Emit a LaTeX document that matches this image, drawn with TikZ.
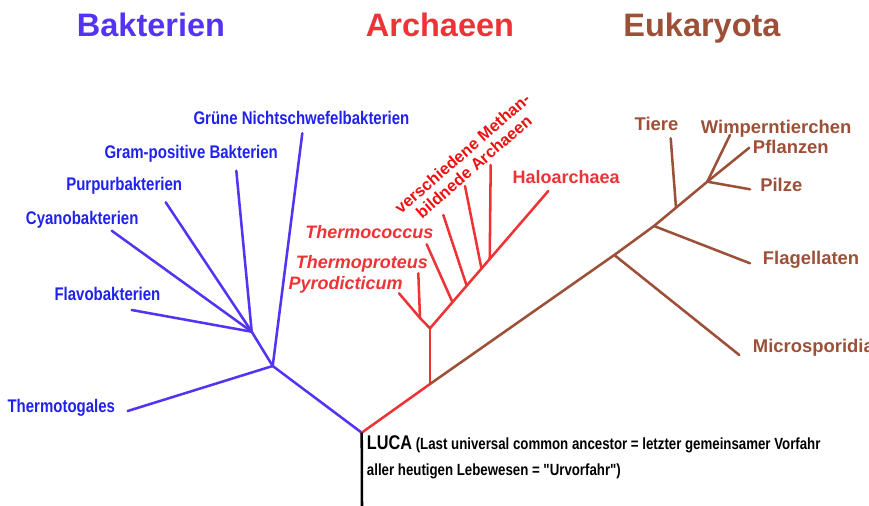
\documentclass[tikz,border=0pt]{standalone}
\usepackage{fontspec}
\setmainfont{Liberation Sans}
\newfontfamily\narrowfont[FakeStretch=0.82]{Liberation Sans}
\usetikzlibrary{calc}
\usepackage{xcolor}
\definecolor{BactViolet}{HTML}{5533F5}
\definecolor{BactBlue}{HTML}{1F22EE}
\definecolor{ArchRed}{HTML}{EE3336}
\definecolor{ArchBright}{HTML}{EE1111}
\definecolor{EukBrown}{HTML}{9C5038}
\tikzset{
    % Line styles
    bactline/.style={draw=BactViolet, line width=1.8pt, line cap=round, line join=round},
    archline/.style={draw=ArchRed, line width=1.8pt, line cap=round, line join=round},
    eukline/.style={draw=EukBrown, line width=1.8pt, line cap=round, line join=round},
    rootline/.style={draw=black, line width=1.8pt},
    % Text styles
    title/.style={inner sep=0pt, anchor=base, font=\fontsize{23.1}{26}\selectfont\bfseries},
    bactlabel/.style={inner sep=0pt, anchor=base west, text=BactBlue,
        font=\narrowfont\fontsize{13}{15}\selectfont\bfseries},
    archlabel/.style={inner sep=0pt, anchor=base west, text=ArchRed,
        font=\fontsize{12.8}{15}\selectfont\bfseries\itshape},
    euklabel/.style={inner sep=0pt, anchor=base west, text=EukBrown,
        font=\fontsize{13.1}{15}\selectfont\bfseries},
    lucalabel/.style={inner sep=0pt, anchor=base west, text=black,
        font=\narrowfont\fontsize{11.5}{14}\selectfont\bfseries}
}
\begin{document}
\begin{tikzpicture}[x=0.025cm, y=-0.025cm]
    \useasboundingbox (0,0) rectangle (869,506);

    % Titles
    \node[title, text=BactViolet] (tbact) at (151,36) {Bakterien};
    \node[title, text=ArchRed] (tarch) at (440,36) {Archaeen};
    \node[title, text=EukBrown] (teuk) at (702,36) {Eukaryota};

    % Junctions
    \coordinate (luca) at (361.7,432.7);
    \coordinate (root) at (362,506);
    \coordinate (bact) at (272.7,366);
    \coordinate (bsub) at (251.7,331.7);
    \coordinate (arch) at (430,384);
    \coordinate (asub) at (430,328.3);
    \coordinate (pyrosub) at (420,318);
    \coordinate (euka) at (614.3,255);
    \coordinate (eukb) at (654,226);
    \coordinate (eukc) at (676,207.7);
    \coordinate (eukd) at (707.3,181.7);

    % Bakterien
    \node[bactlabel] (thermotogales) at (7.3,412.7) {Thermotogales};
    \node[bactlabel] (flavo) at (54.3,300.7) {Flavobakterien};
    \node[bactlabel] (cyano) at (25.7,224) {Cyanobakterien};
    \node[bactlabel] (purpur) at (66,190) {Purpurbakterien};
    \node[bactlabel] (gram) at (104.3,158.3) {Gram-positive Bakterien};
    \node[bactlabel] (gruene) at (193.3,124.3) {Grüne Nichtschwefelbakterien};

    \coordinate (thermotogalesend) at (127.7,411);
    \coordinate (flavoend) at (131.7,310);
    \coordinate (cyanoend) at (111.7,230.7);
    \coordinate (purpurend) at (165.7,202.3);
    \coordinate (gramend) at (236.3,170.7);
    \coordinate (grueneend) at (302.3,133.3);

    \draw[bactline] (luca) -- (bact);
    \draw[bactline] (bact) -- (thermotogalesend);
    \draw[bactline] (bact) -- (grueneend);
    \draw[bactline] (bact) -- (bsub);
    \foreach \leaf in {flavoend, cyanoend, purpurend, gramend}
        \draw[bactline] (bsub) -- (\leaf);

    % Archaeen
    \node[archlabel] (pyro) at (288.3,289) {Pyrodicticum};
    \node[archlabel] (thermoproteus) at (295.7,268.3) {Thermoproteus};
    \node[archlabel] (thermococcus) at (305,238.3) {Thermococcus};
    \node[archlabel, font=\fontsize{12.8}{15}\selectfont\bfseries] (halo) at (512.3,183.3) {Haloarchaea};
    \node[inner sep=0pt, text=ArchBright, rotate=41, align=center,
        font=\fontsize{11.7}{12.4}\selectfont\bfseries] (methan) at (468,160)
        {verschiedene Methan-\\bildnede Archaeen};

    \coordinate (pyroend) at (399,293.3);
    \coordinate (thermoproteusend) at (418.3,273.3);
    \coordinate (haloend) at (548.3,191);
    \coordinate (thermococcusend) at (426.7,244.3);
    \coordinate (methanaend) at (443.3,215);
    \coordinate (methanbend) at (465,186);
    \coordinate (methancend) at (490.7,165);

    \draw[archline] (luca) -- (arch);
    \draw[archline] (arch) -- (asub);
    \draw[archline] (asub) -- (pyrosub);
    \draw[archline] (pyrosub) -- (pyroend);
    \draw[archline] (pyrosub) -- (thermoproteusend);
    \draw[archline] (asub) -- (haloend);
    \draw[archline] ($(asub)!0.19!(haloend)$) -- (thermococcusend);
    \draw[archline] ($(asub)!0.31!(haloend)$) -- (methanaend);
    \draw[archline] ($(asub)!0.435!(haloend)$) -- (methanbend);
    \draw[archline] ($(asub)!0.505!(haloend)$) -- (methancend);

    % Eukaryota
    \node[euklabel] (tiere) at (634.3,130) {Tiere};
    \node[euklabel] (wimper) at (700.7,133.3) {Wimperntierchen};
    \node[euklabel] (pflanzen) at (752.7,153.3) {Pflanzen};
    \node[euklabel] (pilze) at (760,191.7) {Pilze};
    \node[euklabel] (flag) at (762.7,264) {Flagellaten};
    \node[euklabel] (micro) at (752.7,352.3) {Microsporidia};

    \coordinate (microend) at (739.3,355);
    \coordinate (flagend) at (750,263.3);
    \coordinate (tiereend) at (670.7,138.3);
    \coordinate (wimperend) at (730,135);
    \coordinate (pflanzenend) at (749.3,147.7);
    \coordinate (pilzeend) at (750,189.3);

    \draw[eukline] (arch) -- (euka) -- (eukb) -- (eukc) -- (eukd);
    \draw[eukline] (euka) -- (microend);
    \draw[eukline] (eukb) -- (flagend);
    \draw[eukline] (eukc) -- (tiereend);
    \foreach \leaf in {wimperend, pflanzenend, pilzeend}
        \draw[eukline] (eukd) -- (\leaf);

    % LUCA
    \draw[rootline] (luca) -- (root);
    \node[lucalabel] (lucaa) at (366.7,449.3)
        {{\fontsize{14.1}{16}\selectfont LUCA} (Last universal common ancestor = letzter gemeinsamer Vorfahr};
    \node[lucalabel] (lucab) at (366.7,475.7)
        {aller heutigen Lebewesen = "Urvorfahr")};
\end{tikzpicture}
\end{document}
